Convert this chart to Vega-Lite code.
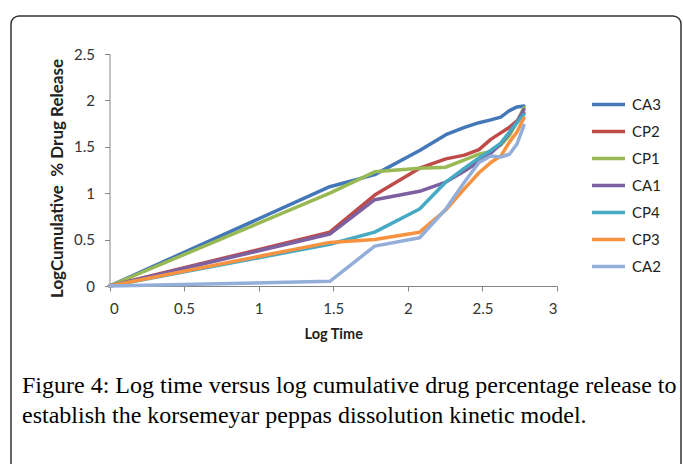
{
  "$schema": "https://vega.github.io/schema/vega-lite/v6.json",
  "width": 670,
  "height": 456,
  "autosize": {"type": "none"},
  "padding": {"left": 11, "top": 16, "right": 2, "bottom": -8},
  "background": "white",
  "title": {
    "text": ["Figure 4: Log time versus log cumulative drug percentage release to", "establish the korsemeyar peppas dissolution kinetic model."],
    "orient": "bottom",
    "anchor": "start",
    "frame": "group",
    "offset": -98,
    "dx": 11,
    "font": "Liberation Serif",
    "fontSize": 24,
    "fontWeight": "normal",
    "color": "#000000",
    "lineHeight": 30
  },
  "data": {
    "values": [
      {"batch": "CA3", "logTime": 0, "logRelease": 0},
      {"batch": "CA3", "logTime": 1.477, "logRelease": 1.07},
      {"batch": "CA3", "logTime": 1.778, "logRelease": 1.2},
      {"batch": "CA3", "logTime": 2.079, "logRelease": 1.46},
      {"batch": "CA3", "logTime": 2.255, "logRelease": 1.63},
      {"batch": "CA3", "logTime": 2.38, "logRelease": 1.71},
      {"batch": "CA3", "logTime": 2.477, "logRelease": 1.76},
      {"batch": "CA3", "logTime": 2.556, "logRelease": 1.79},
      {"batch": "CA3", "logTime": 2.623, "logRelease": 1.82},
      {"batch": "CA3", "logTime": 2.681, "logRelease": 1.89},
      {"batch": "CA3", "logTime": 2.732, "logRelease": 1.93},
      {"batch": "CA3", "logTime": 2.778, "logRelease": 1.94},
      {"batch": "CP2", "logTime": 0, "logRelease": 0},
      {"batch": "CP2", "logTime": 1.477, "logRelease": 0.58},
      {"batch": "CP2", "logTime": 1.778, "logRelease": 0.98},
      {"batch": "CP2", "logTime": 2.079, "logRelease": 1.27},
      {"batch": "CP2", "logTime": 2.255, "logRelease": 1.37},
      {"batch": "CP2", "logTime": 2.38, "logRelease": 1.41},
      {"batch": "CP2", "logTime": 2.477, "logRelease": 1.47},
      {"batch": "CP2", "logTime": 2.556, "logRelease": 1.58},
      {"batch": "CP2", "logTime": 2.623, "logRelease": 1.65},
      {"batch": "CP2", "logTime": 2.681, "logRelease": 1.71},
      {"batch": "CP2", "logTime": 2.732, "logRelease": 1.78},
      {"batch": "CP2", "logTime": 2.778, "logRelease": 1.86},
      {"batch": "CP1", "logTime": 0, "logRelease": 0},
      {"batch": "CP1", "logTime": 1.477, "logRelease": 1.0},
      {"batch": "CP1", "logTime": 1.778, "logRelease": 1.23},
      {"batch": "CP1", "logTime": 2.079, "logRelease": 1.27},
      {"batch": "CP1", "logTime": 2.255, "logRelease": 1.28},
      {"batch": "CP1", "logTime": 2.38, "logRelease": 1.36},
      {"batch": "CP1", "logTime": 2.477, "logRelease": 1.42},
      {"batch": "CP1", "logTime": 2.556, "logRelease": 1.45},
      {"batch": "CP1", "logTime": 2.623, "logRelease": 1.52},
      {"batch": "CP1", "logTime": 2.681, "logRelease": 1.62},
      {"batch": "CP1", "logTime": 2.732, "logRelease": 1.77},
      {"batch": "CP1", "logTime": 2.778, "logRelease": 1.92},
      {"batch": "CA1", "logTime": 0, "logRelease": 0},
      {"batch": "CA1", "logTime": 1.477, "logRelease": 0.56},
      {"batch": "CA1", "logTime": 1.778, "logRelease": 0.93},
      {"batch": "CA1", "logTime": 2.079, "logRelease": 1.02},
      {"batch": "CA1", "logTime": 2.255, "logRelease": 1.12},
      {"batch": "CA1", "logTime": 2.38, "logRelease": 1.24},
      {"batch": "CA1", "logTime": 2.477, "logRelease": 1.34},
      {"batch": "CA1", "logTime": 2.556, "logRelease": 1.43},
      {"batch": "CA1", "logTime": 2.623, "logRelease": 1.53},
      {"batch": "CA1", "logTime": 2.681, "logRelease": 1.65},
      {"batch": "CA1", "logTime": 2.732, "logRelease": 1.77},
      {"batch": "CA1", "logTime": 2.778, "logRelease": 1.9},
      {"batch": "CP4", "logTime": 0, "logRelease": 0},
      {"batch": "CP4", "logTime": 1.477, "logRelease": 0.45},
      {"batch": "CP4", "logTime": 1.778, "logRelease": 0.58},
      {"batch": "CP4", "logTime": 2.079, "logRelease": 0.83},
      {"batch": "CP4", "logTime": 2.255, "logRelease": 1.12},
      {"batch": "CP4", "logTime": 2.38, "logRelease": 1.27},
      {"batch": "CP4", "logTime": 2.477, "logRelease": 1.38},
      {"batch": "CP4", "logTime": 2.556, "logRelease": 1.46},
      {"batch": "CP4", "logTime": 2.623, "logRelease": 1.54},
      {"batch": "CP4", "logTime": 2.681, "logRelease": 1.66},
      {"batch": "CP4", "logTime": 2.732, "logRelease": 1.76},
      {"batch": "CP4", "logTime": 2.778, "logRelease": 1.85},
      {"batch": "CP3", "logTime": 0, "logRelease": 0},
      {"batch": "CP3", "logTime": 1.477, "logRelease": 0.47},
      {"batch": "CP3", "logTime": 1.778, "logRelease": 0.5},
      {"batch": "CP3", "logTime": 2.079, "logRelease": 0.58},
      {"batch": "CP3", "logTime": 2.255, "logRelease": 0.82},
      {"batch": "CP3", "logTime": 2.38, "logRelease": 1.05},
      {"batch": "CP3", "logTime": 2.477, "logRelease": 1.22},
      {"batch": "CP3", "logTime": 2.556, "logRelease": 1.33},
      {"batch": "CP3", "logTime": 2.623, "logRelease": 1.4},
      {"batch": "CP3", "logTime": 2.681, "logRelease": 1.55},
      {"batch": "CP3", "logTime": 2.732, "logRelease": 1.66},
      {"batch": "CP3", "logTime": 2.778, "logRelease": 1.81},
      {"batch": "CA2", "logTime": 0, "logRelease": 0},
      {"batch": "CA2", "logTime": 1.477, "logRelease": 0.05},
      {"batch": "CA2", "logTime": 1.778, "logRelease": 0.43},
      {"batch": "CA2", "logTime": 2.079, "logRelease": 0.52},
      {"batch": "CA2", "logTime": 2.255, "logRelease": 0.83},
      {"batch": "CA2", "logTime": 2.38, "logRelease": 1.12},
      {"batch": "CA2", "logTime": 2.477, "logRelease": 1.33},
      {"batch": "CA2", "logTime": 2.556, "logRelease": 1.4},
      {"batch": "CA2", "logTime": 2.623, "logRelease": 1.39},
      {"batch": "CA2", "logTime": 2.681, "logRelease": 1.42},
      {"batch": "CA2", "logTime": 2.732, "logRelease": 1.53},
      {"batch": "CA2", "logTime": 2.778, "logRelease": 1.73}
    ]
  },
  "mark": {"type": "line", "strokeWidth": 3.5, "strokeCap": "round", "strokeJoin": "round"},
  "encoding": {
    "x": {
      "field": "logTime",
      "type": "quantitative",
      "scale": {"domain": [0, 3], "range": [98.5, 546], "nice": false, "zero": false},
      "axis": {
        "orient": "bottom",
        "offset": -186,
        "values": [0, 0.5, 1, 1.5, 2, 2.5, 3],
        "format": "~g",
        "grid": false,
        "domainColor": "#868686",
        "tickColor": "#868686",
        "tickSize": 5,
        "labelFont": "Lato",
        "labelFontSize": 15,
        "labelColor": "#333333",
        "labelPadding": 10,
        "title": "Log Time",
        "titleFont": "Lato",
        "titleFontSize": 14.5,
        "titleFontWeight": "bold",
        "titleColor": "#222222",
        "titlePadding": 11
      }
    },
    "y": {
      "field": "logRelease",
      "type": "quantitative",
      "scale": {"domain": [0, 2.5], "range": [270, 38], "nice": false, "zero": false},
      "axis": {
        "orient": "left",
        "offset": -98.5,
        "values": [0, 0.5, 1, 1.5, 2, 2.5],
        "format": "~g",
        "grid": false,
        "domainColor": "#868686",
        "tickColor": "#868686",
        "tickSize": 5,
        "labelFont": "Lato",
        "labelFontSize": 15,
        "labelColor": "#333333",
        "labelPadding": 10,
        "title": "LogCumulative \u00a0% Drug Release",
        "titleFont": "Lato",
        "titleFontSize": 17,
        "titleFontWeight": "bold",
        "titleColor": "#222222",
        "titlePadding": 7,
        "titleY": 162
      }
    },
    "color": {
      "field": "batch",
      "type": "nominal",
      "sort": ["CA3", "CP2", "CP1", "CA1", "CP4", "CP3", "CA2"],
      "scale": {
        "domain": ["CA3", "CP2", "CP1", "CA1", "CP4", "CP3", "CA2"],
        "range": ["#4477B8", "#BE4B48", "#98B954", "#7D60A0", "#46AAC5", "#F69240", "#94AEDA"]
      },
      "legend": {
        "orient": "none",
        "legendX": 579,
        "legendY": 70,
        "title": null,
        "padding": 0,
        "rowPadding": 0,
        "symbolType": "stroke",
        "symbolSize": 1089,
        "symbolStrokeWidth": 3.5,
        "labelFont": "Lato",
        "labelFontSize": 15,
        "labelColor": "#222222",
        "labelOffset": 5
      }
    }
  },
  "config": {
    "view": {"stroke": "#333333", "strokeWidth": 1.5, "cornerRadius": 8}
  }
}
